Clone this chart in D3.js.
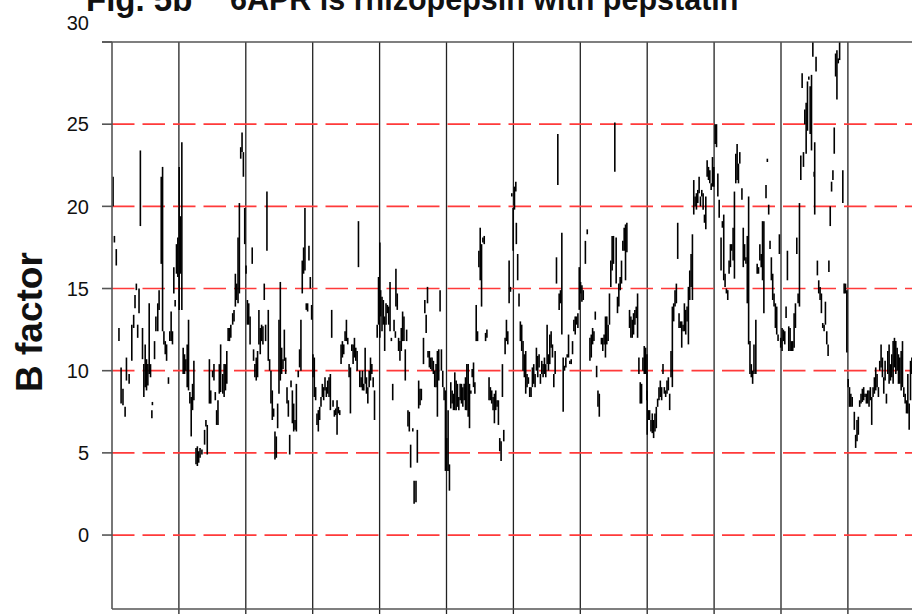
<!DOCTYPE html>
<html>
<head>
<meta charset="utf-8">
<script src="https://cdn.jsdelivr.net/npm/d3@7/dist/d3.min.js"></script>
<style>
    body { margin: 0; background: #fff; }
    svg { display: block; font-family: Arial, "Liberation Sans", sans-serif; }
</style>
</head>
<body>
<div class="js-chart"></div>
<script>
'use strict';

//B factor ranges per residue position: [residue, high, low]
var block1 = [
    [0.4,21.8,20.0],[0.9,18.2,17.8],[1.6,17.4,16.4],[2.6,12.6,11.8],[3.4,10.2,8.0],[4.1,8.9,7.9],
    [4.9,7.8,7.2],[5.4,10.8,9.4],[6.4,9.8,9.2],[7.4,12.8,10.6],[8.1,13.4,12.6],[8.6,14.6,13.8],
    [9.1,15.3,14.9],[9.6,12.8,12.0],[10.1,15.0,13.5],[10.6,23.4,18.8],[11.4,12.6,10.7],[11.9,10.4,8.4],
    [12.4,11.6,9.0],[12.9,10.7,8.8],[13.4,10.4,9.1],[13.9,14.1,9.8],[14.4,10.4,9.6],[14.9,7.6,7.1],
    [15.1,8.1,7.9],[15.9,11.8,10.7],[16.4,13.3,12.4],[17.1,14.1,12.4],[17.6,14.9,13.7],[18.4,21.8,16.5],
    [18.9,22.4,12.4],[19.4,12.4,11.6],[19.9,11.8,11.0],[20.4,11.6,10.6],[21.1,9.6,9.2],[21.6,12.4,11.8],
    [22.1,13.6,11.8],[22.6,12.4,11.6],[23.1,16.3,14.7],[23.6,14.3,13.9],[24.1,17.7,15.9],[24.6,18.1,15.7],
    [25.1,22.4,13.7],[25.6,19.4,15.9],[26.1,23.9,13.7],[26.6,11.4,9.8],[27.1,11.0,9.8],[27.6,10.7,10.0],
    [28.1,11.6,9.0],[28.6,13.1,8.8],[29.1,8.7,8.0],[29.6,8.4,6.0],[30.1,9.2,7.6],[30.6,10.6,8.2],
    [31.4,5.3,4.3],[31.9,5.4,4.2],[32.4,5.1,4.4],[32.9,5.3,4.7],[33.6,5.2,4.9],[34.6,6.4,5.5],
    [35.1,7.0,6.6],[35.6,6.7,4.9],[36.4,10.7,8.0],[36.9,8.8,8.0],[37.6,10.0,9.6],[38.1,10.4,9.4],
    [38.6,8.7,8.2],[39.1,7.6,6.7],[39.6,8.2,6.7],[40.1,10.4,8.6],[40.6,11.6,8.7],[41.4,9.8,8.6],
    [41.9,10.4,8.4],[42.4,10.4,8.8],[42.9,11.2,9.2],[43.4,12.6,11.8],[43.9,12.6,11.8],[44.4,12.8,12.0],
    [45.1,13.5,12.8],[45.6,13.7,13.0],[46.1,15.9,13.9],[46.6,15.3,14.3],[47.1,18.1,14.1],[47.6,20.2,14.7],
    [48.1,23.6,22.9],[48.6,24.5,23.3],[49.1,23.3,21.8],[49.6,19.9,17.7],[50.1,16.4,15.9],[50.6,14.3,12.8],
    [51.1,14.1,12.8],[51.6,13.3,11.6],[52.4,17.5,16.5],[52.9,11.3,10.6],[53.4,10.4,9.6],[53.9,10.8,9.4],
    [54.4,11.2,9.6],[54.9,13.7,11.6],[55.4,12.6,11.0],[55.9,12.8,11.8],[56.4,12.7,11.6],[56.9,15.3,14.3],
    [57.4,12.8,11.8],[57.9,20.9,17.3],[58.4,13.7,10.6],[58.9,10.7,10.0],[59.4,10.0,8.0],[59.9,8.8,7.0],
    [60.4,7.7,7.2],[60.9,6.3,4.6],[61.4,6.0,4.7],[61.9,8.0,6.5],[62.4,13.1,8.6],[62.9,15.4,9.4],
    [63.4,11.4,9.8],[63.9,10.7,10.1],[64.4,12.5,10.6],[64.9,10.8,9.8],[65.4,9.0,8.0],[65.9,8.2,7.2],
    [66.4,6.1,4.9],[66.9,9.4,9.0],[67.4,8.8,6.8],[67.9,8.0,6.3],[68.4,7.0,6.4],[68.9,9.2,6.3],
    [69.6,10.0,9.6],[70.1,11.3,10.2],[70.6,13.1,10.0],[71.1,16.7,14.7],[71.6,17.5,15.9],[72.1,19.9,16.1],
    [72.6,14.1,13.7],[73.1,14.1,13.6],[73.6,17.6,16.7],[74.1,15.7,15.0],[74.6,14.0,13.1],[75.1,11.0,9.6],
    [75.6,10.8,8.4],[76.1,9.0,8.2],[76.6,7.4,6.7],[77.1,7.6,6.3],[77.6,7.8,7.0],[78.1,8.4,7.8],
    [78.6,9.2,8.4],[79.1,9.0,8.2],[79.6,9.6,8.8],[80.1,9.0,8.4],[80.6,9.4,8.6],[81.1,9.6,8.4],
    [81.6,9.8,7.6],[82.1,13.7,12.0],[82.6,8.2,7.8],[83.1,7.6,7.2],[83.6,7.7,7.3],[84.1,8.2,6.1],
    [84.6,7.8,7.4],[85.1,7.6,7.3],[85.6,11.6,10.4],[86.1,11.8,10.8],[86.6,11.6,11.0],[87.1,12.4,11.8],
    [87.6,13.1,11.8],[88.1,12.0,11.6],[88.6,10.4,9.6],[89.1,10.2,7.4],[89.6,11.6,11.2],[90.1,11.6,10.4],
    [90.6,12.0,10.8],[91.1,11.4,10.6],[91.6,11.2,10.0],[92.1,19.1,16.3],[92.6,10.0,9.0],[93.1,9.6,9.0],
    [93.6,10.0,8.8],[94.1,9.2,8.8],[94.6,11.4,9.2],[95.1,9.6,8.6],[95.6,9.0,8.0],[96.1,10.0,9.0],
    [96.6,10.8,9.4],[97.1,10.4,9.8],[97.6,9.6,9.0],[98.1,8.8,7.0],[99.1,12.8,12.0],[99.6,15.7,12.8],
    [100.1,17.8,12.0]
];

var block2 = [
    [100.4,14.9,13.3],[100.9,14.5,12.4],[101.4,14.3,12.8],[101.9,13.3,11.2],[102.4,14.1,12.8],[102.9,14.0,13.5],
    [103.4,13.9,12.8],[103.9,15.4,12.4],[104.4,12.0,11.8],[104.9,9.2,8.2],[105.4,13.1,12.4],[105.9,12.4,12.0],
    [106.1,16.2,13.9],[106.6,14.7,13.7],[107.1,12.0,11.2],[107.6,11.8,10.6],[108.1,12.6,11.2],[108.6,13.6,11.8],
    [109.1,13.3,11.8],[109.6,11.3,9.4],[110.1,12.5,11.8],[110.6,7.6,6.6],[111.1,7.5,6.3],[111.6,5.5,4.1],
    [112.4,6.5,6.3],[112.9,3.3,1.9],[113.6,3.3,2.0],[114.1,6.4,4.4],[114.6,9.4,7.7],[115.1,8.9,7.9],
    [115.6,8.9,8.2],[116.4,12.0,10.4],[116.9,14.3,13.5],[117.4,13.4,12.3],[117.9,15.1,14.1],[118.1,11.2,10.8],
    [118.6,11.2,10.2],[119.1,10.8,10.1],[119.6,10.8,10.0],[120.1,10.6,9.8],[120.6,10.0,9.0],[121.1,10.4,9.0],
    [121.6,11.2,7.2],[122.1,11.3,9.4],[122.6,14.9,13.6],[123.1,11.3,10.0],[123.6,10.0,9.0],[124.1,9.0,8.2],
    [124.6,8.8,3.9],[125.1,5.9,3.9],[125.6,7.6,3.9],[126.1,4.3,2.7],[126.6,9.3,7.7],[127.1,8.8,8.0],
    [127.6,8.6,7.6],[128.1,9.9,7.6],[128.6,9.4,7.6],[129.1,9.2,7.8],[129.6,8.4,7.6],[130.1,9.2,8.2],
    [130.6,9.2,8.0],[131.1,9.0,7.8],[131.6,9.2,8.2],[132.1,9.6,7.6],[132.6,10.4,7.6],[133.1,10.4,7.2],
    [133.6,9.2,6.5],[134.1,8.8,8.6],[134.6,10.1,9.6],[135.1,10.5,9.0],[135.6,9.3,8.6],[136.1,14.0,11.8],
    [136.6,12.4,11.8],[137.1,17.3,16.3],[137.6,18.7,15.5],[138.1,17.7,13.9],[138.6,18.1,17.8],[139.1,18.2,17.7],
    [139.6,12.3,11.8],[140.1,12.5,12.0],[140.9,9.6,8.2],[141.4,9.0,8.2],[141.9,8.8,8.0],[142.4,8.4,7.6],
    [142.9,8.6,6.8],[143.4,8.8,7.6],[143.9,8.2,7.8],[144.4,8.2,6.7],[144.9,5.9,5.1],[145.4,5.7,4.5],
    [145.9,10.4,8.4],[146.4,6.4,5.7],[146.9,12.0,11.0],[147.4,13.1,11.8],[147.9,12.4,11.6],[148.4,16.7,14.1],
    [148.9,15.1,14.8],[149.4,20.8,20.6],[149.9,19.9,17.3],[150.4,21.2,19.8],[150.9,21.5,20.9],[151.1,19.0,17.7],
    [151.6,17.1,15.5],[152.1,14.7,13.9],[152.6,13.0,11.8],[153.1,12.8,11.2],[153.6,11.8,10.0],[154.1,11.0,9.6],
    [154.6,11.2,8.6],[155.1,9.8,9.0],[155.6,9.6,9.2],[156.1,9.0,8.4],[156.6,9.0,8.4],[157.1,10.2,9.0],
    [157.6,10.4,9.2],[158.1,9.8,9.0],[158.6,11.4,10.0],[159.1,10.9,9.6],[159.6,11.0,10.2],[160.1,9.8,9.2],
    [160.6,10.6,9.8],[161.1,10.4,9.6],[161.6,10.8,9.8],[162.1,10.4,9.6],[162.6,12.8,10.4],[163.1,11.0,10.0],
    [163.6,12.2,10.4],[164.1,12.4,11.4],[164.6,11.6,10.8],[165.1,9.8,9.0],[165.6,11.2,9.8],[166.1,16.9,15.3],
    [166.6,24.4,21.3],[167.1,14.7,13.7],[167.6,14.9,14.1],[168.1,18.4,12.2],[168.6,10.8,7.5],[169.1,10.3,10.0],
    [169.6,10.8,10.2],[170.1,11.0,10.8],[170.6,12.2,10.8],[171.1,10.6,10.4],[171.6,10.7,10.4],[172.1,11.8,11.0],
    [172.6,13.1,12.4],[173.1,13.3,12.2],[173.6,13.3,12.8],[174.1,13.5,12.6],[174.6,16.3,13.7],[175.1,15.4,14.7],
    [175.6,15.2,14.2],[176.1,14.9,14.3],[176.9,17.9,16.5],[177.6,18.6,18.3],[178.6,12.0,10.6],[179.1,12.2,10.8],
    [179.6,12.6,11.6],[180.1,12.4,11.8],[180.6,13.6,13.1],[181.1,10.3,9.6],[181.6,8.8,7.8],[182.1,8.6,7.2],
    [182.9,12.0,11.6],[183.4,12.0,11.2],[183.9,12.2,11.6],[184.4,13.3,10.8],[184.9,13.3,11.6],[185.4,12.8,11.8],
    [185.9,14.7,12.8],[186.4,16.7,15.1],[186.9,18.2,16.1],[187.4,18.2,16.5],[187.9,25.1,22.1],[188.4,18.1,15.3],
    [188.9,14.5,13.5],[189.4,15.3,13.9],[189.9,15.7,14.9],[190.4,16.7,15.3],[190.9,17.9,17.3],[191.4,18.7,17.3],
    [191.9,18.9,15.5],[192.4,19.0,17.2],[193.4,13.7,12.6],[193.9,13.3,12.0],[194.4,13.1,12.0],[194.9,13.5,12.2],
    [195.4,13.7,12.8],[195.9,13.9,13.2],[196.4,14.7,12.0],[196.9,10.8,9.8],[197.4,9.3,8.0],[197.9,9.2,8.0],
    [198.4,10.8,10.0],[198.9,11.5,9.8],[199.4,11.4,9.8],[199.9,11.0,8.2]
];

var block3 = [
    [200.0,8.8,6.1],[200.4,7.6,7.0],[200.9,7.6,7.0],[201.4,7.0,6.3],[201.9,7.4,6.2],[202.4,7.0,5.9],
    [202.9,7.4,6.3],[203.4,7.8,6.5],[203.9,8.3,7.8],[204.4,9.0,8.2],[204.9,9.4,8.4],[205.4,9.0,8.2],
    [205.9,10.4,9.8],[206.4,9.0,8.6],[206.9,8.8,8.4],[207.4,9.4,8.6],[207.9,9.6,8.8],[208.4,8.6,7.6],
    [208.9,11.2,9.6],[209.4,13.9,9.0],[209.9,14.1,13.0],[210.4,14.9,13.9],[210.9,15.3,14.1],[211.4,19.0,16.8],
    [211.9,13.5,12.6],[212.4,13.0,12.6],[212.9,13.0,11.4],[213.4,12.8,12.4],[213.9,14.1,12.4],[214.4,13.7,12.2],
    [214.9,13.9,13.0],[215.4,15.1,11.6],[215.9,16.1,14.3],[216.4,17.1,15.1],[216.9,18.3,14.3],[217.4,21.6,19.5],
    [217.9,20.6,20.0],[218.4,20.8,19.8],[218.9,21.0,20.2],[219.4,21.8,20.8],[219.9,20.6,20.0],[220.4,21.0,20.6],
    [220.9,20.8,19.8],[221.4,19.5,19.0],[221.9,20.6,18.6],[222.4,22.8,21.8],[222.9,22.4,21.6],[223.4,22.2,21.4],
    [223.9,21.4,21.0],[224.4,23.0,21.2],[224.9,22.4,21.2],[225.4,25.0,23.8],[225.9,25.0,23.6],[226.4,22.0,20.6],
    [226.9,20.4,19.3],[227.6,18.1,16.1],[228.1,19.1,18.7],[228.6,19.5,15.5],[229.1,15.9,15.1],[229.6,15.0,14.7],
    [230.1,14.9,14.3],[230.6,16.7,15.9],[231.1,17.7,16.3],[231.6,17.7,17.3],[232.1,18.7,16.7],[232.6,20.9,15.6],
    [233.1,23.2,21.4],[233.6,23.8,21.6],[234.1,22.6,21.4],[234.6,23.3,22.6],[235.4,21.1,20.4],[235.9,18.7,16.3],
    [236.4,17.7,16.7],[236.9,16.9,16.5],[237.4,18.2,14.1],[237.9,20.6,11.6],[238.4,11.8,9.8],[238.9,10.4,9.6],
    [239.4,10.0,9.2],[239.9,11.6,9.8],[240.6,13.1,9.8],[241.1,16.5,15.9],[241.6,16.3,15.9],[242.1,17.7,16.7],
    [242.6,17.1,16.3],[243.1,19.1,15.5],[243.6,19.1,13.5],[244.4,21.3,20.5],[244.9,22.9,22.7],[245.4,20.1,19.5],
    [245.9,17.9,17.4],[246.4,16.9,15.5],[246.9,15.9,14.3],[247.4,14.7,13.9],[247.9,14.1,12.6],[248.4,13.9,12.2],
    [248.9,12.2,11.8],[249.4,18.3,17.1],[249.9,12.0,11.4],[250.4,12.6,11.2],[250.9,12.5,11.8],[251.4,12.4,11.6],
    [251.9,13.9,13.2],[252.4,17.3,15.5],[252.9,12.7,11.2],[253.4,12.6,11.2],[253.9,11.8,11.2],[254.4,11.8,11.2],
    [254.9,13.5,11.4],[255.4,14.1,12.6],[255.9,18.1,17.1],[256.4,14.7,14.1],[256.9,20.2,13.9],[257.4,23.1,21.6],
    [257.9,28.1,27.2],[258.4,23.3,22.4],[258.9,25.9,25.0],[259.4,26.3,23.2],[259.9,27.6,24.6],[260.4,27.9,27.7],
    [260.9,27.3,24.4],[261.4,28.0,23.4],[261.9,30.0,29.1],[262.4,22.1,21.8],[262.6,23.9,19.5],[263.1,29.1,28.2],
    [263.6,16.7,15.8],[264.1,15.5,14.7],[264.6,15.1,14.3],[265.1,14.7,13.5],[265.6,12.9,12.6],[266.1,12.8,12.4],
    [266.6,14.2,12.8],[267.1,12.4,11.6],[267.6,11.6,10.9],[267.9,16.7,16.0],[268.4,20.0,18.8],[268.9,21.5,20.9],
    [269.4,22.2,21.6],[269.9,24.8,23.2],[270.4,29.3,27.9],[270.9,29.5,26.5],[271.4,29.0,28.7],[271.9,30.0,28.9],
    [273.1,22.2,20.2],[273.6,15.3,14.7],[274.1,15.3,14.7],[274.6,14.9,11.1],[275.1,9.5,9.0],[275.6,9.0,7.8],
    [276.1,8.6,7.8],[276.6,8.4,7.8],[277.4,7.5,6.4],[277.9,6.1,5.3],[278.4,7.0,5.7],[278.9,7.2,6.1],
    [279.4,8.2,7.8],[279.9,8.6,8.0],[280.4,8.9,8.1],[280.9,9.0,8.2],[281.4,8.6,8.4],[281.9,8.6,8.0],
    [282.4,8.8,8.0],[282.9,8.8,7.8],[283.4,9.0,8.2],[283.9,8.4,6.7],[284.4,9.0,8.4],[284.9,9.6,8.6],
    [285.4,10.2,8.8],[285.9,9.8,9.0],[286.4,9.0,8.4],[286.9,10.6,10.0],[287.4,11.6,10.2],[287.9,10.8,9.6],
    [288.4,9.6,8.6],[288.9,10.6,9.4],[289.4,8.6,8.0],[289.9,11.2,9.8],[290.4,11.6,9.2],[290.9,10.4,9.4],
    [291.4,11.0,9.6],[291.9,11.8,9.2],[292.4,12.0,10.2],[292.9,11.8,9.8],[293.4,11.4,10.0],[293.9,11.0,9.2],
    [294.4,10.8,9.2],[294.9,11.2,8.8],[295.4,11.8,9.0],[295.9,9.0,8.4],[296.4,8.6,8.0],[296.9,8.2,7.4],
    [297.4,9.8,7.4],[297.9,8.0,6.4],[298.4,10.6,8.2],[298.9,10.8,9.8]
];

var yTicks = [0, 5, 10, 15, 20, 25, 30];
var refLevels = [0, 5, 10, 15, 20, 25];
var gridResidues = [25, 50, 75, 100, 125, 150, 175, 200, 225, 250, 275];

var figLabel = 'Fig. 5b';
var titleText = '6APR is rhizopepsin with pepstatin';
var yTitle = 'B factor';

var dim = {w: 912, h: 614};

var svg = d3.select('.js-chart')
    .append('svg')
    .attr('width', dim.w)
    .attr('height', dim.h);

//scales - residue along x, B factor along y
var x = d3.scaleLinear().domain([0, 300]).range([112, 914.8]);
var y = d3.scaleLinear().domain([-4.5, 30]).range([609, 42]);

//vertical grid, running a bit past the bottom like tick marks
svg.append('g').selectAll('line')
    .data(gridResidues)
    .enter()
    .append('line')
    .attr('x1', function (d) { return x(d); })
    .attr('x2', function (d) { return x(d); })
    .attr('y1', y(30))
    .attr('y2', dim.h)
    .style('stroke', '#222')
    .style('stroke-width', 1.3);

//red dashed reference levels
svg.append('g').selectAll('line')
    .data(refLevels)
    .enter()
    .append('line')
    .attr('x1', x(0))
    .attr('x2', dim.w)
    .attr('y1', function (d) { return y(d); })
    .attr('y2', function (d) { return y(d); })
    .style('stroke', '#ff3a3a')
    .style('stroke-width', 1.7)
    .style('stroke-dasharray', '22.5,8');

//B factor segments
var segments = block1.concat(block2, block3);
svg.append('g').selectAll('line')
    .data(segments)
    .enter()
    .append('line')
    .attr('x1', function (d) { return x(d[0]); })
    .attr('x2', function (d) { return x(d[0]); })
    .attr('y1', function (d) { return y(d[1]); })
    .attr('y2', function (d) { return y(d[2]); })
    .style('stroke', '#000')
    .style('stroke-width', 1.6);

//frame: top edge, left axis, bottom edge
var frame = svg.append('g').style('stroke', '#555').style('stroke-width', 1.6);
frame.append('line').attr('x1', 102).attr('x2', dim.w).attr('y1', y(30)).attr('y2', y(30));
frame.append('line').attr('x1', x(0)).attr('x2', x(0)).attr('y1', y(30)).attr('y2', y(-4.5));
frame.append('line').attr('x1', x(0)).attr('x2', dim.w).attr('y1', y(-4.5)).attr('y2', y(-4.5));

//y ticks and labels
var ticks = svg.append('g');
ticks.selectAll('line')
    .data(yTicks)
    .enter()
    .append('line')
    .attr('x1', 102)
    .attr('x2', x(0))
    .attr('y1', function (d) { return y(d); })
    .attr('y2', function (d) { return y(d); })
    .style('stroke', '#555')
    .style('stroke-width', 1.6);

ticks.selectAll('text')
    .data(yTicks)
    .enter()
    .append('text')
    .text(function (d) { return d; })
    .attr('x', 89)
    .attr('y', function (d) {
        //top label sits above the frame in the original
        return y(d) + (d === 30 ? -19 : 0);
    })
    .attr('dy', '0.36em')
    .attr('text-anchor', 'end')
    .style('font-size', '20px')
    .style('fill', '#111');

//axis title
svg.append('text')
    .text(yTitle)
    .attr('transform', 'translate(42,392) rotate(-90)')
    .style('font-size', '37px')
    .style('font-weight', 'bold')
    .style('fill', '#111');

//figure title, partly cut off at the top
svg.append('text')
    .text(figLabel)
    .attr('x', 86)
    .attr('y', 11)
    .style('font-size', '33px')
    .style('font-weight', 'bold')
    .style('fill', '#111');

svg.append('text')
    .text(titleText)
    .attr('x', 230)
    .attr('y', 10)
    .style('font-size', '30.5px')
    .style('font-weight', 'bold')
    .style('fill', '#111');
</script>
</body>
</html>
